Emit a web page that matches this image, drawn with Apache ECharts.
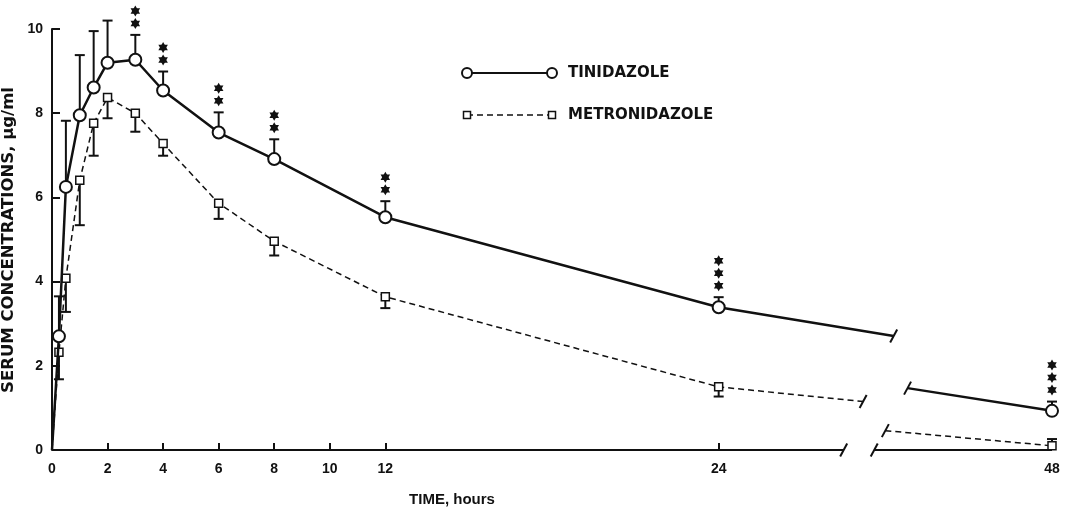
<!DOCTYPE html>
<html>
<head>
<meta charset="utf-8">
<script src="https://cdn.jsdelivr.net/npm/echarts@6/dist/echarts.min.js"></script>
<style>
  html, body { margin: 0; padding: 0; background: #fff; }
  #serum { width: 1072px; height: 515px; }
</style>
</head>
<body>
<div id="serum"></div>
<script>
// 采样时间 (hours)
var hours = [0, 0.25, 0.5, 1, 1.5, 2, 3, 4, 6, 8, 12, 24, 48];
var xTickHours = [0, 2, 4, 6, 8, 10, 12, 24, 48];

// serum concentrations, ug/ml
var tinidazole = [0, 2.70, 6.25, 7.95, 8.61, 9.20, 9.27, 8.54, 7.54, 6.91, 5.53, 3.39, 0.93];
var tinidazoleErr = [null, 0.95, 1.57, 1.43, 1.34, 1.00, 0.59, 0.45, 0.48, 0.47, 0.38, 0.24, 0.22];
var tinidazoleStars = [0, 0, 0, 0, 0, 0, 2, 2, 2, 2, 2, 3, 3];

var metronidazole = [0, 2.32, 4.08, 6.41, 7.76, 8.37, 8.00, 7.28, 5.86, 4.96, 3.64, 1.50, 0.10];
// negative = bar drawn downwards
var metronidazoleErr = [null, -0.64, -0.80, -1.07, -0.77, -0.49, -0.44, -0.29, -0.37, -0.34, -0.27, -0.23, 0.16];

// broken time axis: 48 h sits at axis position 36
var afterBreak = { 48: 36 };
var axisBreak = [28.5, 29.6];
var tinidazoleBreak = [[30.3, 2.71], [30.8, 1.47]];
var metronidazoleBreak = [[29.2, 1.15], [30.0, 0.46]];

function axisPos(h) {
  return afterBreak[h] !== undefined ? afterBreak[h] : h;
}

var serumChart = echarts.init(document.getElementById('serum'));

// 折线数据, 原点和断点处不画符号
function splitLine(values, breakPts) {
  var left = [], right = [];
  for (var i = 0; i < hours.length; i++) {
    var pt = [axisPos(hours[i]), values[i]];
    if (hours[i] === 0) pt = { value: pt, symbol: 'none' };
    if (hours[i] <= 24) left.push(pt);
    else right.push(pt);
  }
  left.push({ value: breakPts[0], symbol: 'none' });
  right.unshift({ value: breakPts[1], symbol: 'none' });
  return [left, right];
}

function errData(values, errs) {
  var d = [];
  for (var i = 0; i < hours.length; i++) {
    if (errs[i] === null) continue;
    d.push([axisPos(hours[i]), values[i], values[i] + errs[i]]);
  }
  return d;
}

function starData() {
  var d = [];
  for (var i = 0; i < hours.length; i++) {
    if (!tinidazoleStars[i]) continue;
    d.push([axisPos(hours[i]), tinidazole[i] + tinidazoleErr[i], tinidazoleStars[i]]);
  }
  return d;
}

function renderErr(params, api) {
  var p0 = api.coord([api.value(0), api.value(1)]);
  var p1 = api.coord([api.value(0), api.value(2)]);
  var st = { stroke: '#111', lineWidth: 2 };
  return {
    type: 'group',
    children: [
      { type: 'line', shape: { x1: p0[0], y1: p0[1], x2: p1[0], y2: p1[1] }, style: st },
      { type: 'line', shape: { x1: p1[0] - 5, y1: p1[1], x2: p1[0] + 5, y2: p1[1] }, style: st }
    ]
  };
}

// 六角星
function renderStars(params, api) {
  var p = api.coord([api.value(0), api.value(1)]);
  var n = api.value(2);
  var children = [];
  for (var k = 0; k < n; k++) {
    var cx = p[0], cy = p[1] - 11.5 - k * 12.5, r = 5.5;
    children.push({
      type: 'polygon',
      shape: { points: [[cx, cy - r], [cx + 0.866 * r, cy + 0.5 * r], [cx - 0.866 * r, cy + 0.5 * r]] },
      style: { fill: '#111' }
    });
    children.push({
      type: 'polygon',
      shape: { points: [[cx, cy + r], [cx + 0.866 * r, cy - 0.5 * r], [cx - 0.866 * r, cy - 0.5 * r]] },
      style: { fill: '#111' }
    });
  }
  return { type: 'group', children: children };
}

function renderSlash(params, api) {
  var p = api.coord([api.value(0), api.value(1)]);
  return {
    type: 'line',
    shape: { x1: p[0] - 3.5, y1: p[1] + 6.5, x2: p[0] + 3.5, y2: p[1] - 6.5 },
    style: { stroke: '#111', lineWidth: 2 }
  };
}

function renderAxisPiece(params, api) {
  var a = api.coord([api.value(0), 0]);
  var b = api.coord([api.value(1), 0]);
  return {
    type: 'line',
    shape: { x1: a[0], y1: a[1], x2: b[0], y2: b[1] },
    style: { stroke: '#111', lineWidth: 2 }
  };
}

function setSerumChart() {
  var tini = splitLine(tinidazole, tinidazoleBreak);
  var metro = splitLine(metronidazole, metronidazoleBreak);

  var tiniStyle = {
    type: 'line', z: 4, symbol: 'circle', symbolSize: 12, silent: true,
    itemStyle: { color: '#fff', borderColor: '#111', borderWidth: 2 },
    lineStyle: { color: '#111', width: 2.5 }
  };
  var metroStyle = {
    type: 'line', z: 3, symbol: 'rect', symbolSize: 8, silent: true,
    itemStyle: { color: '#fff', borderColor: '#111', borderWidth: 1.5 },
    lineStyle: { color: '#111', width: 1.5, type: [6, 4] }
  };

  var option = {
    animation: false,
    grid: { left: 52, right: 20, top: 29, bottom: 65, outerBoundsMode: 'none', containLabel: false },
    xAxis: {
      type: 'value', min: 0, max: 36,
      name: 'TIME, hours', nameLocation: 'middle', nameGap: 42,
      nameTextStyle: { fontFamily: 'Liberation Sans', fontWeight: 'bold', fontSize: 15, color: '#111', padding: [0, 200, 0, 0] },
      axisLine: { show: false },
      splitLine: { show: false },
      axisTick: {
        inside: true, length: 7, lineStyle: { color: '#111', width: 2 },
        customValues: [2, 4, 6, 8, 10, 12, 24]
      },
      axisLabel: {
        margin: 12, fontFamily: 'Liberation Sans', fontWeight: 'bold', fontSize: 14, color: '#111',
        customValues: xTickHours.map(axisPos),
        formatter: function (v) {
          for (var i = 0; i < xTickHours.length; i++) {
            if (axisPos(xTickHours[i]) === v) return String(xTickHours[i]);
          }
          return '';
        }
      }
    },
    yAxis: {
      type: 'value', min: 0, max: 10, interval: 2,
      axisLine: { show: true, lineStyle: { color: '#111', width: 2 } },
      axisTick: { show: true, inside: true, length: 8, lineStyle: { color: '#111', width: 2 } },
      splitLine: { show: false },
      axisLabel: { margin: 9, fontFamily: 'Liberation Sans', fontWeight: 'bold', fontSize: 14, color: '#111' }
    },
    graphic: [
      // y轴标题
      { type: 'text', x: 9, y: 240, rotation: Math.PI / 2,
        style: { text: 'SERUM CONCENTRATIONS, \u03bcg/ml', font: 'bold 16.5px "DejaVu Sans"', fill: '#111', align: 'center', verticalAlign: 'middle' } },
      // 图例
      { type: 'line', shape: { x1: 467, y1: 73, x2: 552, y2: 73 }, style: { stroke: '#111', lineWidth: 2 } },
      { type: 'circle', shape: { cx: 467, cy: 73, r: 5 }, style: { fill: '#fff', stroke: '#111', lineWidth: 2 } },
      { type: 'circle', shape: { cx: 552, cy: 73, r: 5 }, style: { fill: '#fff', stroke: '#111', lineWidth: 2 } },
      { type: 'text', x: 568, y: 73, style: { text: 'TINIDAZOLE', font: 'bold 15px "DejaVu Sans"', fill: '#111', verticalAlign: 'middle' } },
      { type: 'line', shape: { x1: 467, y1: 115, x2: 552, y2: 115 }, style: { stroke: '#111', lineWidth: 1.5, lineDash: [6, 4] } },
      { type: 'rect', shape: { x: 463.5, y: 111.5, width: 7, height: 7 }, style: { fill: '#fff', stroke: '#111', lineWidth: 1.5 } },
      { type: 'rect', shape: { x: 548.5, y: 111.5, width: 7, height: 7 }, style: { fill: '#fff', stroke: '#111', lineWidth: 1.5 } },
      { type: 'text', x: 568, y: 115, style: { text: 'METRONIDAZOLE', font: 'bold 15px "DejaVu Sans"', fill: '#111', verticalAlign: 'middle' } }
    ],
    series: [
      // 断开的横轴
      { type: 'custom', z: 2, silent: true, clip: false, renderItem: renderAxisPiece,
        encode: { x: [0, 1] }, data: [[0, axisBreak[0]], [axisBreak[1], 36]] },
      { type: 'custom', z: 2, silent: true, clip: false, renderItem: renderErr,
        encode: { x: 0, y: [1, 2] }, data: errData(tinidazole, tinidazoleErr) },
      { type: 'custom', z: 2, silent: true, clip: false, renderItem: renderErr,
        encode: { x: 0, y: [1, 2] }, data: errData(metronidazole, metronidazoleErr) },
      { type: 'custom', z: 3, silent: true, clip: false, renderItem: renderStars,
        encode: { x: 0, y: 1 }, data: starData() },
      { type: 'custom', z: 3, silent: true, clip: false, renderItem: renderSlash,
        encode: { x: 0, y: 1 },
        data: [[axisBreak[0], 0], [axisBreak[1], 0]].concat(tinidazoleBreak, metronidazoleBreak) },
      Object.assign({ name: 'TINIDAZOLE', data: tini[0] }, tiniStyle),
      Object.assign({ name: 'TINIDAZOLE', data: tini[1] }, tiniStyle),
      Object.assign({ name: 'METRONIDAZOLE', data: metro[0] }, metroStyle),
      Object.assign({ name: 'METRONIDAZOLE', data: metro[1] }, metroStyle)
    ]
  };

  serumChart.setOption(option);
}

setSerumChart();
</script>
</body>
</html>
